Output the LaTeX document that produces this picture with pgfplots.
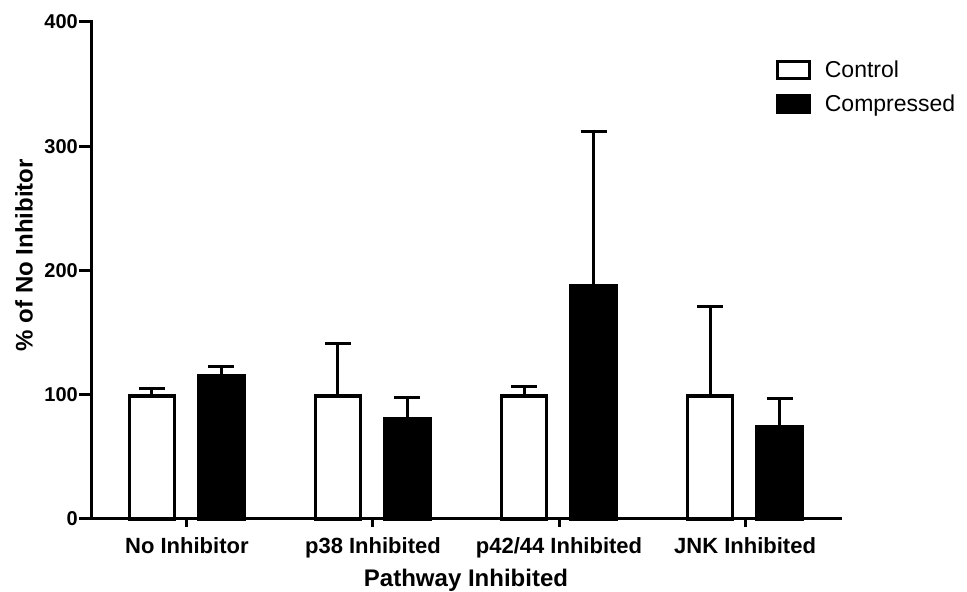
\documentclass[border=0pt]{standalone}
\usepackage{fontspec}
\setmainfont{Liberation Sans}
\usepackage{pgfplots}
\pgfplotsset{compat=1.18}
\begin{document}
\begin{tikzpicture}
\begin{axis}[
  name=ax,
  scale only axis,
  width=748pt, height=497pt,
  xmin=-0.51, xmax=3.51,
  ymin=0, ymax=400,
  enlargelimits=false,
  axis lines*=left,
  axis line style={-, line width=3pt, line cap=rect},
  ybar,
  bar width=45pt,
  xtick={0,1,2,3},
  xticklabels={No Inhibitor,p38 Inhibited,p42/44 Inhibited,JNK Inhibited},
  ytick={0,100,200,300,400},
  tick align=outside,
  major tick length=13pt,
  tick style={line width=3pt, black},
  xtick style={/pgfplots/major tick length=8pt},
  /pgf/number format/assume math mode=true,
  yticklabel style={font=\fontsize{20}{20}\selectfont\bfseries, inner sep=1pt},
  xticklabel style={font=\fontsize{22}{22}\selectfont\bfseries, anchor=base, yshift=-22pt, inner sep=0pt},
  xlabel={Pathway Inhibited},
  ylabel={\% of No Inhibitor},
  xlabel style={font=\fontsize{24}{24}\selectfont\bfseries, inner sep=0pt, at={(axis description cs:0.5,-0.1368)}, anchor=base},
  ylabel style={font=\fontsize{24}{24}\selectfont\bfseries, inner sep=0pt, at={(axis description cs:-0.0909,0.531)}, anchor=center},
  legend cell align=left,
  legend style={draw=none, fill=none, at={(axis description cs:0.914,0.926)}, anchor=north west,
    font=\fontsize{23}{23}\selectfont, row sep=12pt, inner sep=0pt,
    /tikz/every even column/.append style={column sep=0pt}},
  legend image code/.code={\draw[#1, line width=3pt, bar shift=0pt] (0pt,-8.5pt) rectangle (32pt,8.5pt);},
  error bars/y dir=plus,
  error bars/y explicit,
  error bars/error mark=|,
  error bars/error bar style={line width=3pt, black},
  error bars/error mark options={line width=3pt, black, mark size=13pt},
  clip=false,
]
\addplot[draw=black, fill=white, line width=3.5pt, bar shift=-35pt]
  coordinates {(0,99) +- (0,6) (1,99) +- (0,42) (2,99) +- (0,8) (3,99) +- (0,72)};
\addlegendentry{\hspace{12pt}Control}
\addplot[draw=black, fill=black, line width=3.5pt, bar shift=34.5pt]
  coordinates {(0,115.5) +- (0,7) (1,81) +- (0,16.5) (2,188) +- (0,124) (3,74) +- (0,23)};
\addlegendentry{\hspace{12pt}Compressed}
\end{axis}
\path ([xshift=-92pt,yshift=22pt]ax.north west) rectangle ([xshift=127pt,yshift=-70pt]ax.south east);
\end{tikzpicture}
\end{document}
